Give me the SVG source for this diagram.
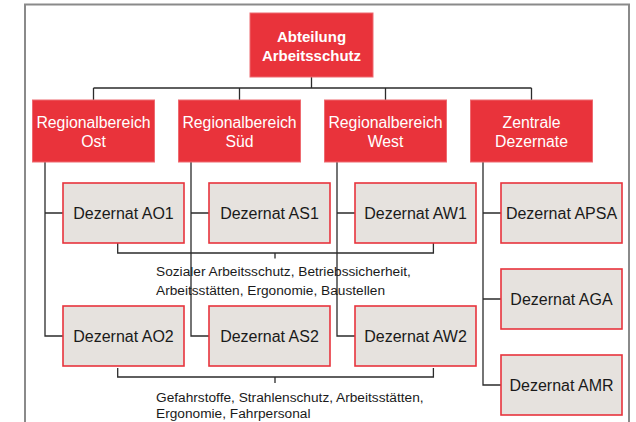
<svg xmlns="http://www.w3.org/2000/svg" width="636" height="422" viewBox="0 0 636 422">
<style>
.red{fill:#E9333B;stroke:#EE6A70;stroke-width:1}
.dz{fill:#E6E2DE;stroke:#E8343C;stroke-width:1.6}
.wt{font-family:"Liberation Sans",Arial,sans-serif;fill:#FFFFFF;font-size:15.8px;text-anchor:middle}
.bt{font-family:"Liberation Sans",Arial,sans-serif;fill:#FFFFFF;font-size:15px;font-weight:bold;text-anchor:middle}
.dt{font-family:"Liberation Sans",Arial,sans-serif;fill:#1A1A1A;font-size:16px;text-anchor:middle}
.nt{font-family:"Liberation Sans",Arial,sans-serif;fill:#1A1A1A;font-size:13.7px}
.ln{fill:none;stroke:#2B2B2B;stroke-width:1.3}
</style>
<rect width="636" height="422" fill="#FFFFFF"/>
<path d="M25,422 V4.5 H629 V422" fill="none" stroke="#8A8A8A" stroke-width="2"/>
<g id="connectors" class="ln">
<path d="M311.5,77 V88 M93.5,88 H531.5 M93.5,88 V100 M239.5,88 V100 M385.5,88 V100 M531.5,88 V100"/>
<path d="M45,162 V336 H63 M45,213 H63"/>
<path d="M191,162 V336 H209 M191,213 H209"/>
<path d="M337,162 V336 H355 M337,213 H355"/>
<path d="M483,162 V385 H501 M483,213 H501 M483,299 H501"/>
<path d="M117.7,243 V253 H433.4 V243 M275,253 V258.5"/>
<path d="M117.7,368 V377 H433.4 V368 M275,377 V383"/>
</g>
<g id="abteilung"><rect class="red" x="250" y="13" width="123" height="64"/><text class="bt" x="311.5" y="41.5">Abteilung</text><text class="bt" x="311.5" y="60.5">Arbeitsschutz</text></g>
<g id="rb-ost"><rect class="red" x="32.5" y="100" width="122" height="62"/><text class="wt" x="93.5" y="127.5">Regionalbereich</text><text class="wt" x="93.5" y="146.5">Ost</text></g>
<g id="rb-sued"><rect class="red" x="178.5" y="100" width="122" height="62"/><text class="wt" x="239.5" y="127.5">Regionalbereich</text><text class="wt" x="239.5" y="146.5">Süd</text></g>
<g id="rb-west"><rect class="red" x="324.5" y="100" width="122" height="62"/><text class="wt" x="385.5" y="127.5">Regionalbereich</text><text class="wt" x="385.5" y="146.5">West</text></g>
<g id="zentrale"><rect class="red" x="470.5" y="100" width="122" height="62"/><text class="wt" x="531.5" y="127.5">Zentrale</text><text class="wt" x="531.5" y="146.5">Dezernate</text></g>
<g id="ao1"><rect class="dz" x="63" y="183" width="121" height="60"/><text class="dt" x="123.5" y="218.7">Dezernat AO1</text></g>
<g id="as1"><rect class="dz" x="209" y="183" width="121" height="60"/><text class="dt" x="269.5" y="218.7">Dezernat AS1</text></g>
<g id="aw1"><rect class="dz" x="355" y="183" width="121" height="60"/><text class="dt" x="415.5" y="218.7">Dezernat AW1</text></g>
<g id="apsa"><rect class="dz" x="501" y="183" width="121" height="60"/><text class="dt" x="561.5" y="218.7">Dezernat APSA</text></g>
<g id="ao2"><rect class="dz" x="63" y="306" width="121" height="60"/><text class="dt" x="123.5" y="341.7">Dezernat AO2</text></g>
<g id="as2"><rect class="dz" x="209" y="306" width="121" height="60"/><text class="dt" x="269.5" y="341.7">Dezernat AS2</text></g>
<g id="aw2"><rect class="dz" x="355" y="306" width="121" height="60"/><text class="dt" x="415.5" y="341.7">Dezernat AW2</text></g>
<g id="aga"><rect class="dz" x="501" y="269" width="121" height="60"/><text class="dt" x="561.5" y="304.7">Dezernat AGA</text></g>
<g id="amr"><rect class="dz" x="501" y="355" width="121" height="60"/><text class="dt" x="561.5" y="390.7">Dezernat AMR</text></g>
<g id="note1"><text class="nt" x="156" y="276">Sozialer Arbeitsschutz, Betriebssicherheit,</text><text class="nt" x="156" y="294.5">Arbeitsstätten, Ergonomie, Baustellen</text></g>
<g id="note2"><text class="nt" x="156" y="401.5">Gefahrstoffe, Strahlenschutz, Arbeitsstätten,</text><text class="nt" x="156" y="417.5">Ergonomie, Fahrpersonal</text></g>
</svg>
